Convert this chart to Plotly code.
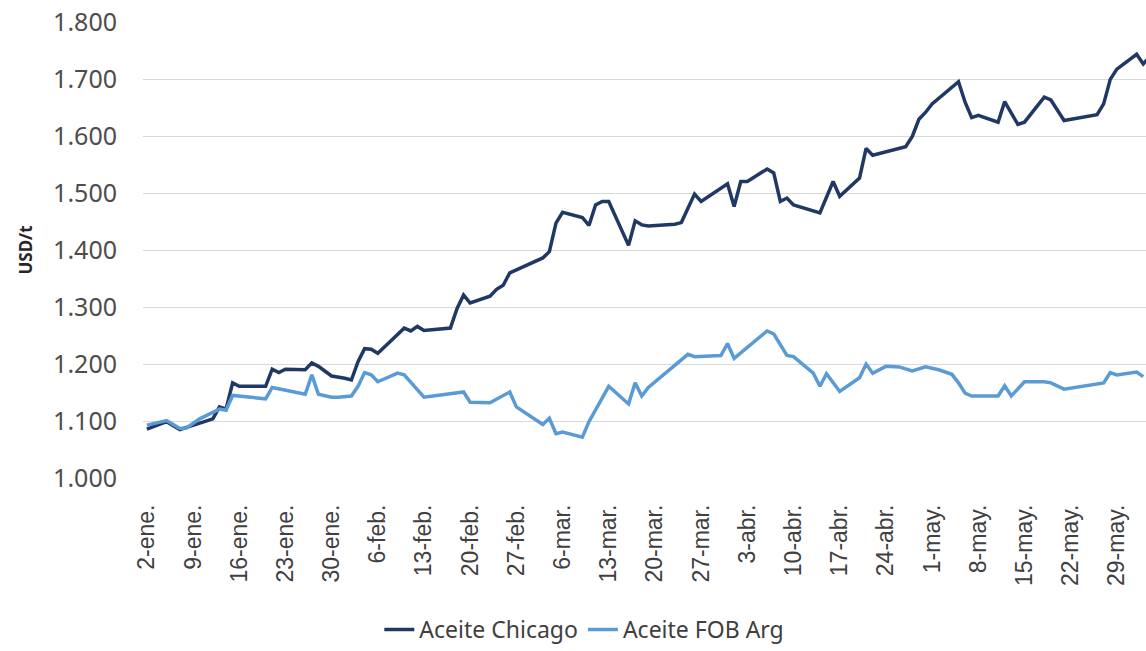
import plotly.graph_objects as go

# ---- data ----
chicago_dates = [
    "2023-01-02", "2023-01-05", "2023-01-07", "2023-01-12", "2023-01-13", "2023-01-14",
    "2023-01-15", "2023-01-16", "2023-01-20", "2023-01-21", "2023-01-22", "2023-01-23",
    "2023-01-26", "2023-01-27", "2023-01-28", "2023-01-30", "2023-02-01", "2023-02-02",
    "2023-02-03", "2023-02-04", "2023-02-05", "2023-02-06", "2023-02-08", "2023-02-10",
    "2023-02-11", "2023-02-12", "2023-02-13", "2023-02-17", "2023-02-18", "2023-02-19",
    "2023-02-20", "2023-02-22", "2023-02-23", "2023-02-24", "2023-02-25", "2023-02-26",
    "2023-02-27", "2023-03-02", "2023-03-03", "2023-03-04", "2023-03-05", "2023-03-06",
    "2023-03-09", "2023-03-10", "2023-03-11", "2023-03-12", "2023-03-13", "2023-03-16",
    "2023-03-17", "2023-03-18", "2023-03-19", "2023-03-23", "2023-03-24", "2023-03-26",
    "2023-03-27", "2023-03-31", "2023-04-01", "2023-04-02", "2023-04-03", "2023-04-06",
    "2023-04-07", "2023-04-08", "2023-04-09", "2023-04-10", "2023-04-14", "2023-04-16",
    "2023-04-17", "2023-04-20", "2023-04-21", "2023-04-22", "2023-04-27", "2023-04-28",
    "2023-04-29", "2023-04-30", "2023-05-01", "2023-05-05", "2023-05-06", "2023-05-07",
    "2023-05-08", "2023-05-11", "2023-05-12", "2023-05-14", "2023-05-15", "2023-05-18",
    "2023-05-19", "2023-05-21", "2023-05-26", "2023-05-27", "2023-05-28", "2023-05-29",
    "2023-05-30", "2023-06-01", "2023-06-02", "2023-06-03",
]
chicago_values = [
    1087, 1100, 1086, 1105, 1126, 1122,
    1168, 1162, 1162, 1192, 1186, 1192,
    1191, 1203, 1197, 1180, 1176, 1173,
    1205, 1228, 1227, 1220, 1242, 1264,
    1259, 1267, 1260, 1264, 1298, 1322,
    1308, 1315, 1320, 1332, 1339, 1361,
    1366, 1382, 1387, 1398, 1448, 1467,
    1458, 1444, 1480, 1486, 1486, 1409,
    1452, 1445, 1443, 1446, 1449, 1499,
    1486, 1517, 1477, 1521, 1521, 1543,
    1536, 1486, 1492, 1480, 1466, 1521,
    1495, 1527, 1579, 1567, 1582, 1600,
    1630, 1642, 1657, 1696, 1660, 1633,
    1637, 1625, 1661, 1621, 1625, 1669,
    1664, 1628, 1638, 1657, 1700, 1718,
    1727, 1744, 1727, 1740,
]

fob_dates = [
    "2023-01-02", "2023-01-05", "2023-01-07", "2023-01-08", "2023-01-10", "2023-01-13",
    "2023-01-14", "2023-01-15", "2023-01-20", "2023-01-21", "2023-01-26", "2023-01-27",
    "2023-01-28", "2023-01-30", "2023-01-31", "2023-02-02", "2023-02-03", "2023-02-04",
    "2023-02-05", "2023-02-06", "2023-02-09", "2023-02-10", "2023-02-13", "2023-02-19",
    "2023-02-20", "2023-02-23", "2023-02-26", "2023-02-27", "2023-03-03", "2023-03-04",
    "2023-03-05", "2023-03-06", "2023-03-09", "2023-03-10", "2023-03-13", "2023-03-16",
    "2023-03-17", "2023-03-18", "2023-03-19", "2023-03-25", "2023-03-26", "2023-03-30",
    "2023-03-31", "2023-04-01", "2023-04-06", "2023-04-07", "2023-04-09", "2023-04-10",
    "2023-04-13", "2023-04-14", "2023-04-15", "2023-04-17", "2023-04-20", "2023-04-21",
    "2023-04-22", "2023-04-24", "2023-04-26", "2023-04-28", "2023-04-30", "2023-05-02",
    "2023-05-04", "2023-05-05", "2023-05-06", "2023-05-07", "2023-05-11", "2023-05-12",
    "2023-05-13", "2023-05-15", "2023-05-18", "2023-05-19", "2023-05-21", "2023-05-27",
    "2023-05-28", "2023-05-29", "2023-06-01", "2023-06-02",
]
fob_values = [
    1094, 1102, 1088, 1089, 1105, 1122,
    1120, 1146, 1140, 1160, 1148, 1182,
    1148, 1143, 1143, 1145, 1162, 1186,
    1182, 1170, 1185, 1182, 1143, 1152,
    1134, 1133, 1152, 1126, 1095, 1106,
    1079, 1082, 1073, 1100, 1162, 1131,
    1168, 1145, 1160, 1218, 1214, 1216,
    1237, 1211, 1259, 1254, 1216, 1214,
    1185, 1162, 1184, 1153, 1177, 1201,
    1185, 1197, 1196, 1189, 1196, 1191,
    1183, 1168, 1150, 1145, 1145, 1163,
    1145, 1170, 1170, 1168, 1157, 1168,
    1186, 1182, 1187, 1179,
]

tick_dates = [
    "2023-01-02", "2023-01-09", "2023-01-16", "2023-01-23", "2023-01-30", "2023-02-06",
    "2023-02-13", "2023-02-20", "2023-02-27", "2023-03-06", "2023-03-13", "2023-03-20",
    "2023-03-27", "2023-04-03", "2023-04-10", "2023-04-17", "2023-04-24", "2023-05-01",
    "2023-05-08", "2023-05-15", "2023-05-22", "2023-05-29",
]
tick_labels = [
    "2-ene.", "9-ene.", "16-ene.", "23-ene.", "30-ene.", "6-feb.",
    "13-feb.", "20-feb.", "27-feb.", "6-mar.", "13-mar.", "20-mar.",
    "27-mar.", "3-abr.", "10-abr.", "17-abr.", "24-abr.", "1-may.",
    "8-may.", "15-may.", "22-may.", "29-may.",
]
y_ticks = [1000, 1100, 1200, 1300, 1400, 1500, 1600, 1700, 1800]

series_names = ["Aceite Chicago", "Aceite FOB Arg"]
series_colors = ["#203864", "#5B9BD5"]

fig = go.Figure()
fig.add_trace(go.Scatter(x=chicago_dates, y=chicago_values, mode="lines",
                         name=series_names[0],
                         line=dict(color=series_colors[0], width=3.5)))
fig.add_trace(go.Scatter(x=fob_dates, y=fob_values, mode="lines",
                         name=series_names[1],
                         line=dict(color=series_colors[1], width=3.5)))

fig.update_layout(
    width=1146, height=651,
    margin=dict(l=143, r=0, t=22, b=159),
    paper_bgcolor="white", plot_bgcolor="white",
    separators=",.",
    font=dict(family="Liberation Sans", color="#404040"),
    showlegend=True,
    legend=dict(orientation="h", x=0.44, xanchor="center", y=-0.33, yanchor="middle",
                font=dict(family="Noto Sans", size=23, color="#404040"),
                itemwidth=30, traceorder="normal"),
    annotations=[dict(text="<b>USD/t</b>", xref="paper", yref="paper", x=-0.1176, y=0.5,
                      xanchor="center", yanchor="middle", textangle=-90, showarrow=False,
                      font=dict(family="Noto Sans", size=17, color="#262626"))],
)

fig.update_xaxes(
    type="date", automargin=False,
    range=["2023-01-01 10:00", "2023-06-02 10:00"],
    tickmode="array", tickvals=tick_dates, ticktext=tick_labels,
    tickangle=-90, ticks="", showgrid=False, zeroline=False, showline=False,
    tickfont=dict(family="Liberation Sans", size=23, color="#404040"),
    ticklabelstandoff=20, ticklabeloverflow="allow",
)
fig.update_yaxes(
    automargin=False,
    range=[999.5, 1800.6], tickmode="array", tickvals=y_ticks, tickformat=",d",
    showgrid=True, gridcolor="#D9D9D9", gridwidth=1.3, zeroline=False, showline=False,
    ticks="", tickfont=dict(family="Noto Sans", size=25, color="#4d4d4d"),
    ticklabelstandoff=25, ticklabeloverflow="allow",
)

# remove the default page margin so the figure fills the browser window exactly
fig.write_html("out.html", config={"displayModeBar": False},
               post_script="document.body.style.margin='0';")
